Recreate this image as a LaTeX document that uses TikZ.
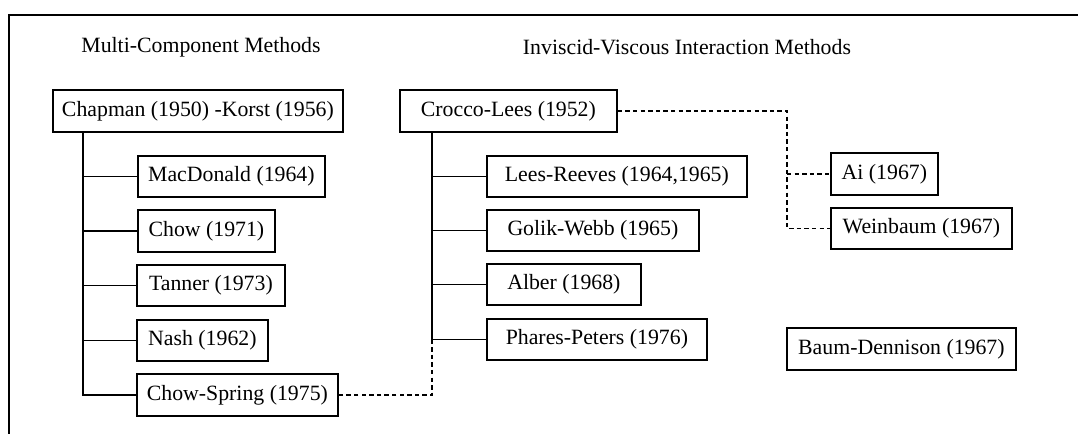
\documentclass[tikz,border=0pt]{standalone}
\usepackage{fontspec}
\setmainfont{Liberation Serif}
\begin{document}
\begin{tikzpicture}[x=0.5pt,y=-0.5pt,
  every node/.style={font=\fontsize{10.9}{13}\selectfont},
  box/.style={draw,line width=0.9pt,anchor=west,minimum height=20.8pt,inner sep=0pt},
  conn/.style={line width=0.9pt},
  dconn/.style={line width=0.8pt,dash pattern=on 2.2pt off 1.6pt}]
\useasboundingbox (0,0) rectangle (1078,434);
\draw[conn] (9,434) -- (9,15) -- (1078,15);
\node (t1) at (201,47) {Multi-Component Methods};
\node (t2) at (687,47) {Inviscid-Viscous Interaction Methods};
\node[box,minimum width=145pt] (chap) at (52,111) {Chapman (1950) -Korst (1956)};
\node[box,minimum width=108.5pt] (crocco) at (399,111) {Crocco-Lees (1952)};
\node[box,minimum width=93.5pt] (mac) at (137,176.5) {MacDonald (1964)};
\node[box,minimum width=68.5pt] (chow) at (137,231) {Chow (1971)};
\node[box,minimum width=74pt] (tan) at (136,285.5) {Tanner (1973)};
\node[box,minimum width=65.5pt] (nash) at (136,340.5) {Nash (1962)};
\node[box,minimum width=100.5pt] (cs) at (136,395) {Chow-Spring (1975)};
\node[box,minimum width=130pt] (lr) at (486,176.5) {Lees-Reeves (1964,1965)};
\node[box,minimum width=106pt] (gw) at (486,230.5) {Golik-Webb (1965)};
\node[box,minimum width=77pt] (alb) at (486,284.5) {Alber (1968)};
\node[box,minimum width=110pt] (pp) at (486,339.5) {Phares-Peters (1976)};
\node[box,minimum width=53.5pt] (ai) at (830,174) {Ai (1967)};
\node[box,minimum width=90.5pt] (wb) at (830,228.5) {Weinbaum (1967)};
\node[box,minimum width=114.5pt] (bd) at (786,349) {Baum-Dennison (1967)};
\coordinate (k1) at (83,0);
\coordinate (k2) at (432,0);
\coordinate (k3) at (787,0);
\draw[conn] (chap.south -| k1) |- (cs.west);
\foreach \n in {mac,chow,tan,nash} \draw[conn] (k1 |- \n.west) -- (\n.west);
\draw[conn] (crocco.south -| k2) -- (k2 |- pp.west);
\foreach \n in {lr,gw,alb,pp} \draw[conn] (k2 |- \n.west) -- (\n.west);
\draw[dconn] (k2 |- pp.west) |- (cs.east);
\draw[dconn] (crocco.east) -| (k3 |- wb.west) -- (wb.west);
\draw[dconn] (k3 |- ai.west) -- (ai.west);
\end{tikzpicture}
\end{document}
